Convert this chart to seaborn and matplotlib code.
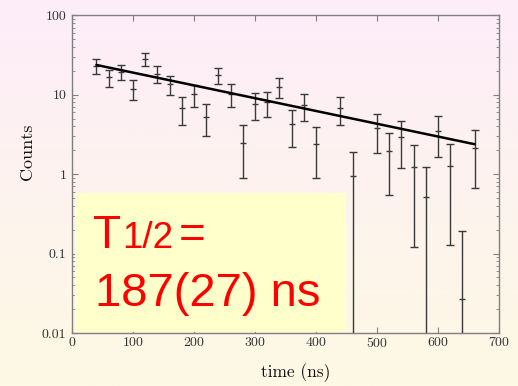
import numpy as np
import pandas as pd
import matplotlib
matplotlib.use("Agg")
import matplotlib.pyplot as plt
import seaborn as sns
from matplotlib.ticker import FixedLocator, FixedFormatter, LogLocator, NullFormatter

# ---- data ----
time_ns = [40, 60, 80, 100, 120, 140, 160, 180, 200, 220, 240, 260, 280, 300, 320,
           340, 360, 380, 400, 440, 460, 500, 520, 540, 560, 580, 600, 620, 640, 660]
counts = [23.0, 16.6, 19.6, 11.9, 28.2, 18.4, 13.6, 6.8, 10.2, 5.3, 17.8, 10.3, 2.5, 7.6, 8.1,
          12.6, 4.3, 7.4, 2.4, 6.8, 0.95, 3.8, 1.94, 2.92, 1.22, 0.52, 3.5, 1.25, 0.027, 2.12]
count_err = [4.8, 4.1, 4.4, 3.4, 5.3, 4.3, 3.7, 2.6, 3.2, 2.3, 4.2, 3.2, 1.6, 2.8, 2.8,
             3.5, 2.1, 2.7, 1.5, 2.6, 0.97, 1.95, 1.39, 1.71, 1.10, 0.72, 1.87, 1.12, 0.164, 1.46]
fit_amplitude = 27.5        # counts at t = 0
half_life_ns = 187.0
fit_range = [40, 660]
x_ticks = [0, 100, 200, 300, 400, 500, 600, 700]
y_ticks = [0.01, 0.1, 1, 10, 100]
y_tick_labels = ["0.01", "0.1", "1", "10", "100"]

df = pd.DataFrame({"time": time_ns, "counts": counts, "err": count_err})
t_fit = np.linspace(fit_range[0], fit_range[1], 100)
fit_df = pd.DataFrame({"time": t_fit,
                       "counts": fit_amplitude * np.exp(-np.log(2) * t_fit / half_life_ns)})

sns.set_theme(style="ticks")
plt.rcParams["font.family"] = ["cmr10", "DejaVu Serif"]
plt.rcParams["axes.formatter.use_mathtext"] = True

W, H = 518, 386
fig = plt.figure(figsize=(W / 100, H / 100), dpi=100)

# gradient background (pink top -> pale yellow bottom)
bg = fig.add_axes([0, 0, 1, 1], zorder=-10)
top = np.array([253, 237, 249]) / 255
bot = np.array([253, 249, 228]) / 255
g = np.linspace(0, 1, 256)[:, None]
img = top[None, None, :] * (1 - g[:, :, None]) + bot[None, None, :] * g[:, :, None]
img = np.repeat(img, 2, axis=1)
bg.imshow(img, aspect="auto", extent=[0, 1, 0, 1])
bg.axis("off")

ax = fig.add_axes([72 / W, 1 - 333 / H, (499 - 72) / W, (333 - 15.3) / H])
ax.set_facecolor("none")
ax.set_yscale("log")
ax.set_xlim(0, 700)
ax.set_ylim(0.01, 100)

ax.errorbar(df["time"], df["counts"], yerr=df["err"], fmt="none",
            ecolor="#3a3a3a", elinewidth=1.0, capsize=2.6, capthick=1.0, zorder=3)
sns.scatterplot(data=df, x="time", y="counts", marker="_", s=18, color="#3a3a3a",
                linewidth=1.0, ax=ax, zorder=4)
sns.lineplot(data=fit_df, x="time", y="counts", color="black", lw=1.8, ax=ax, zorder=5)

# ticks and spines
for s in ax.spines.values():
    s.set_color("#808080")
    s.set_linewidth(1.0)
ax.xaxis.set_major_locator(FixedLocator(x_ticks))
ax.yaxis.set_major_locator(FixedLocator(y_ticks))
ax.yaxis.set_major_formatter(FixedFormatter(y_tick_labels))
ax.yaxis.set_minor_locator(LogLocator(base=10, subs=np.arange(2, 10)))
ax.yaxis.set_minor_formatter(NullFormatter())
ax.tick_params(axis="both", which="both", direction="in", top=True, right=True,
               color="#808080", labelcolor="#333333", labelsize=10)
ax.tick_params(axis="both", which="major", length=4, width=0.8)
ax.tick_params(axis="y", which="minor", length=2, width=0.6)
ax.tick_params(axis="x", pad=2.5)
ax.tick_params(axis="y", pad=4)

ax.set_xlabel("time (ns)", fontsize=12.5, color="#111111")
ax.set_ylabel("Counts", fontsize=13, color="#111111")
ax.xaxis.set_label_coords((296 - 72) / 427, (333 - 363) / 317.7)
ax.yaxis.set_label_coords((35 - 72) / 427, (333 - 152) / 317.7)

# yellow overlay box with half-life text
box = plt.Rectangle((75 / W, 1 - 332 / H), (346 - 75) / W, (332 - 193) / H,
                    transform=fig.transFigure, facecolor="#ffffcc", edgecolor="none",
                    zorder=20)
fig.patches.append(box)
red = "#ff0000"
tf = dict(color=red, family=["Liberation Sans", "DejaVu Sans"], va="baseline",
          ha="left", zorder=21)
fig.text(93 / W, 1 - 248.5 / H, "T", fontsize=33, **tf)
fig.text(122 / W, 1 - 248.5 / H, "1/2", fontsize=26.5, **tf)
fig.text(179 / W, 1 - 248.5 / H, "=", fontsize=33, **tf)
fig.text(95 / W, 1 - 306 / H, "187(27) ns", fontsize=34, **tf)

fig.savefig("out.png", dpi=100)
